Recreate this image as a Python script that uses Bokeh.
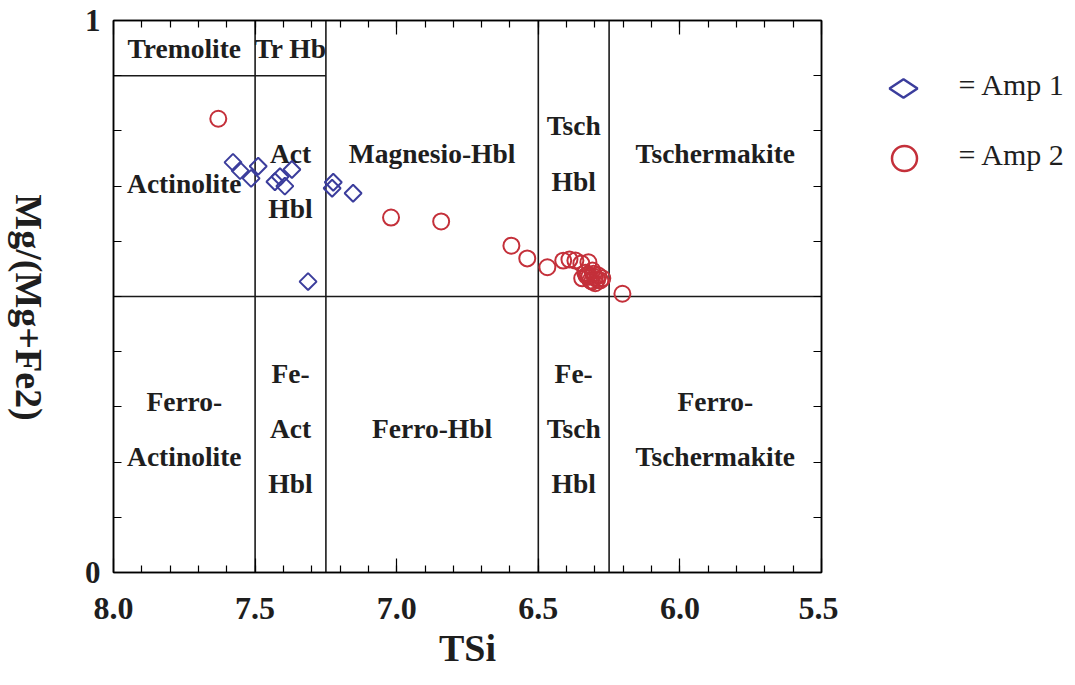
import numpy as np
from bokeh.plotting import figure
from bokeh.models import (Range1d, FixedTicker, LinearAxis, PrintfTickFormatter)
from bokeh.layouts import row
from bokeh.core.properties import value
from bokeh.embed import file_html
from bokeh.resources import INLINE

# ---------------- data ----------------
amp1_tsi = [7.578, 7.553, 7.514, 7.489, 7.430, 7.412, 7.395, 7.370, 7.224, 7.228, 7.154, 7.313]
amp1_mg = [0.743, 0.728, 0.714, 0.736, 0.708, 0.717, 0.700, 0.730, 0.707, 0.696, 0.687, 0.527]

amp2_tsi = [7.630, 7.020, 6.843, 6.595, 6.539, 6.468, 6.412, 6.390, 6.369, 6.348, 6.323,
            6.334, 6.309, 6.288, 6.316, 6.281, 6.345, 6.299, 6.325, 6.300, 6.274,
            6.320, 6.305, 6.292, 6.330, 6.310, 6.203]
amp2_mg = [0.822, 0.643, 0.636, 0.592, 0.569, 0.553, 0.565, 0.567, 0.565, 0.560, 0.562,
           0.543, 0.547, 0.538, 0.529, 0.529, 0.533, 0.524, 0.540, 0.535, 0.533,
           0.536, 0.541, 0.531, 0.538, 0.527, 0.505]

series_labels = ["= Amp 1", "= Amp 2"]
x_title = "TSi"
y_title = "Mg/(Mg+Fe2)"

# classification boundaries
bound_x0 = [7.5, 7.25, 6.5, 6.25, 8.0, 8.0]
bound_x1 = [7.5, 7.25, 6.5, 6.25, 5.5, 7.25]
bound_y0 = [0.0, 0.0, 0.0, 0.0, 0.5, 0.9]
bound_y1 = [1.0, 1.0, 1.0, 1.0, 0.5, 0.9]

# field names and their anchor points
field_names = ["Tremolite", "Tr Hb", "Actinolite", "Act", "Hbl", "Magnesio-Hbl",
               "Tsch", "Hbl", "Tschermakite",
               "Ferro-", "Actinolite", "Fe-", "Act", "Hbl", "Ferro-Hbl",
               "Fe-", "Tsch", "Hbl", "Ferro-", "Tschermakite"]
field_x = [7.75, 7.375, 7.75, 7.375, 7.375, 6.875,
           6.375, 6.375, 5.875,
           7.75, 7.75, 7.375, 7.375, 7.375, 6.875,
           6.375, 6.375, 6.375, 5.875, 5.875]
field_y = [0.95, 0.95, 0.705, 0.759, 0.659, 0.759,
           0.810, 0.708, 0.759,
           0.310, 0.210, 0.360, 0.261, 0.161, 0.261,
           0.360, 0.261, 0.161, 0.310, 0.210]

x_major = [8.0, 7.5, 7.0, 6.5, 6.0, 5.5]
x_minor = [round(8.0 - 0.1 * i, 1) for i in range(1, 25)]
y_major = [0.0, 1.0]
y_minor = [round(0.1 * i, 1) for i in range(1, 10)]

SERIF = "Liberation Serif"
BLUE = "#3b3d9c"
RED = "#c4303a"
INK = "#1e1e1e"

# layout (screen pixels)
H = 685
W_YT = 55                 # strip holding the y title
W_MAIN = 783
W_LEG = 234
FR_L, FR_R, FR_T, FR_B = 113, 821, 20, 572   # frame edges in page pixels
X_MAIN = W_YT
X_LEG = W_YT + W_MAIN

# ---------------- main figure ----------------
p = figure(width=W_MAIN, height=H, x_range=Range1d(8.0, 5.5), y_range=Range1d(0, 1),
           output_backend="svg", toolbar_location=None,
           min_border_left=FR_L - X_MAIN, min_border_right=X_LEG - FR_R,
           min_border_top=FR_T, min_border_bottom=H - FR_B)
p.xgrid.visible = False
p.ygrid.visible = False
p.outline_line_color = "black"
p.outline_line_width = 1.5
p.background_fill_color = "white"
p.border_fill_color = "white"

xt = FixedTicker(ticks=x_major, minor_ticks=x_minor)
yt = FixedTicker(ticks=y_major, minor_ticks=y_minor)

xa = p.xaxis[0]
xa.ticker = xt
xa.formatter = PrintfTickFormatter(format="%.1f")
xa.major_tick_in = 14
xa.major_tick_out = 0
xa.minor_tick_in = 7
xa.minor_tick_out = 0
xa.axis_line_width = 1.5
xa.major_tick_line_width = 1.2
xa.minor_tick_line_width = 1.2
xa.major_label_text_font = SERIF
xa.major_label_text_font_style = "bold"
xa.major_label_text_font_size = "32px"
xa.major_label_text_color = INK
xa.major_label_standoff = 25
xa.axis_label = x_title
xa.axis_label_text_font = SERIF
xa.axis_label_text_font_style = "bold"
xa.axis_label_text_font_size = "38px"
xa.axis_label_text_color = INK
xa.axis_label_standoff = 5

ya = p.yaxis[0]
ya.ticker = yt
ya.major_tick_in = 0
ya.major_tick_out = 0
ya.minor_tick_in = 8
ya.minor_tick_out = 0
ya.axis_line_width = 1.5
ya.minor_tick_line_width = 1.2
ya.major_label_text_font = SERIF
ya.major_label_text_font_style = "bold"
ya.major_label_text_font_size = "31px"
ya.major_label_text_color = INK
ya.major_label_standoff = 13
ya.major_label_orientation = "horizontal"

top = LinearAxis(ticker=xt, major_tick_in=14, major_tick_out=0, minor_tick_in=7, minor_tick_out=0,
                 major_label_overrides={t: "" for t in x_major},
                 major_label_text_font_size="1px", axis_line_width=1.5,
                 major_tick_line_width=1.2, minor_tick_line_width=1.2, major_label_standoff=0)
p.add_layout(top, "above")
right = LinearAxis(ticker=yt, major_tick_in=0, major_tick_out=0, minor_tick_in=8, minor_tick_out=0,
                   major_label_overrides={t: "" for t in y_major},
                   major_label_text_font_size="1px", axis_line_width=1.5,
                   minor_tick_line_width=1.2, major_label_standoff=0)
p.add_layout(right, "right")

# boundaries
p.segment(x0=bound_x0, y0=bound_y0, x1=bound_x1, y1=bound_y1, line_color="#1a1a1a", line_width=1.6)

# field labels
p.text(x=field_x, y=field_y, text=field_names, text_font=value(SERIF), text_font_style="bold",
       text_font_size="27.5px", text_align="center", text_baseline="middle", text_color=INK)

# data points
p.scatter(x=amp1_tsi, y=amp1_mg, marker="square", angle=np.pi / 4, size=12,
          fill_color=None, line_color=BLUE, line_width=2)
p.scatter(x=amp2_tsi, y=amp2_mg, marker="circle", size=16,
          fill_color=None, line_color=RED, line_width=2)


def blank_panel(width, x0):
    f = figure(width=width, height=H, x_range=Range1d(x0, x0 + width),
               y_range=Range1d(FR_B, FR_T), output_backend="svg", toolbar_location=None,
               x_axis_type=None, y_axis_type=None,
               min_border_left=0, min_border_right=0, min_border_top=FR_T,
               min_border_bottom=H - FR_B)
    f.xgrid.visible = False
    f.ygrid.visible = False
    f.outline_line_color = None
    f.background_fill_color = "white"
    f.border_fill_color = "white"
    return f


# ---------------- y title strip (reads top to bottom) ----------------
p0 = blank_panel(W_YT, 0)
p0.text(x=[28], y=[307], text=[y_title], angle=-np.pi / 2, text_font=value(SERIF),
        text_font_style="bold", text_font_size="38px", text_align="center",
        text_baseline="middle", text_color=INK)

# ---------------- legend panel ----------------
p2 = blank_panel(W_LEG, X_LEG)
mk_x = 903
row_y = [88, 158]
p2.scatter(x=[mk_x], y=[row_y[0]], marker="diamond", angle=np.pi / 2, size=28,
           fill_color=None, line_color=BLUE, line_width=2.5)
p2.scatter(x=[mk_x + 1], y=[row_y[1]], marker="circle", size=25,
           fill_color=None, line_color=RED, line_width=2.5)
p2.text(x=[958, 958], y=[row_y[0] - 4, row_y[1] - 4], text=series_labels, text_font=value(SERIF),
        text_font_size="30px", text_align="left", text_baseline="middle", text_color=INK)

layout = row(p0, p, p2)
open("out.html", "w").write(file_html(layout, INLINE))
